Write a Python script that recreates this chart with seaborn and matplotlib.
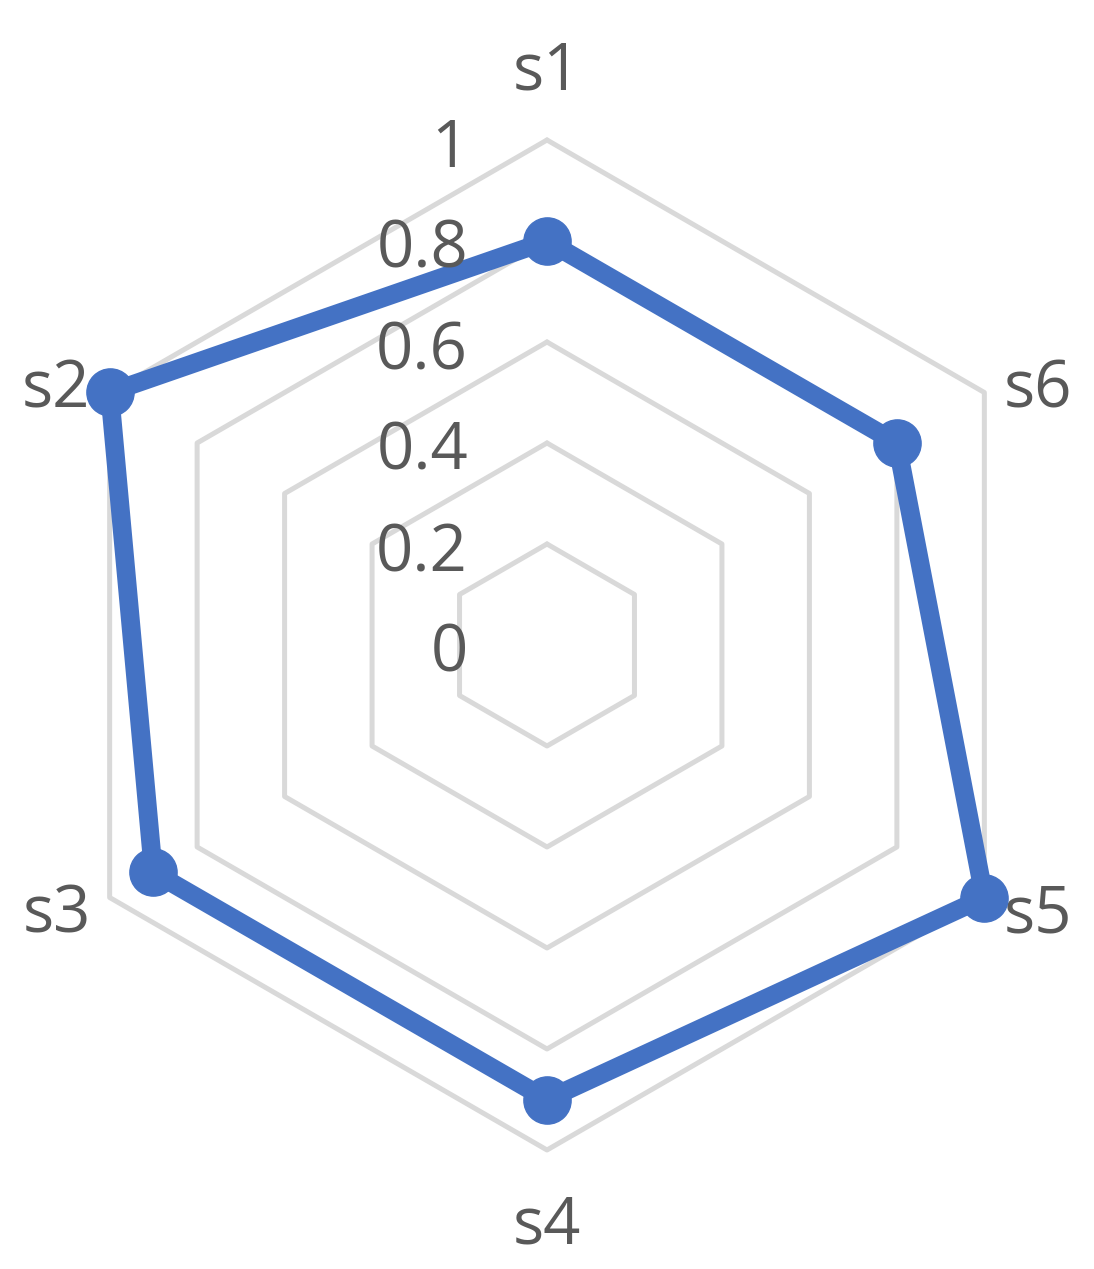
import numpy as np
import pandas as pd
import matplotlib
matplotlib.use("Agg")
import matplotlib.pyplot as plt
import matplotlib.transforms as mtransforms
import seaborn as sns

categories = ["s1", "s2", "s3", "s4", "s5", "s6"]
values = [0.8, 1.0, 0.9, 0.9, 1.0, 0.8]
ring_levels = [0.2, 0.4, 0.6, 0.8, 1.0]
tick_labels = ["0", "0.2", "0.4", "0.6", "0.8", "1"]
tick_values = [0.0, 0.2, 0.4, 0.6, 0.8, 1.0]

sns.set_theme(style="white")
plt.rcParams["font.family"] = ["Open Sans", "DejaVu Sans"]

LINE = "#4472C4"
GRID = "#D9D9D9"
TEXT = "#595959"
FS = 47

fig = plt.figure(figsize=(10.94, 12.69), dpi=100)
R = 505
cx, cy = 547, 645
ax = fig.add_axes([(cx - R) / 1094, (1269 - cy - R) / 1269, 2 * R / 1094, 2 * R / 1269],
                  projection="polar")
ax.set_theta_zero_location("N")
ax.set_theta_direction(1)
ax.set_ylim(0, 1)
ax.grid(False)
ax.spines["polar"].set_visible(False)
ax.set_xticks([])
ax.set_yticks([])
ax.patch.set_alpha(0)

n = len(categories)
angles = np.arange(n) * 2 * np.pi / n
closed = np.append(angles, angles[0])

for lvl in ring_levels:
    ax.plot(closed, [lvl] * (n + 1), color=GRID, lw=3.6, zorder=1,
            solid_joinstyle="miter", clip_on=False)

df = pd.DataFrame({"angle": np.append(angles, angles[0]),
                   "value": values + [values[0]]})
sns.lineplot(data=df, x="angle", y="value", sort=False, ax=ax, color=LINE,
             lw=13.5, zorder=3, estimator=None)
for ln in ax.get_lines():
    ln.set_clip_on(False)
    ln.set_solid_joinstyle("round")
ax.plot(angles, values, "o", color=LINE, markersize=34, zorder=4, clip_on=False)
ax.set_xlabel("")
ax.set_ylabel("")

for a, c in zip(angles, categories):
    cosv = np.cos(a)
    sinv = np.sin(a)
    dy = -6 if cosv < -0.9 else -3
    dx = 0
    if abs(abs(cosv) - 0.5) < 1e-6:
        dy = -8 - 25 * np.sign(cosv)
        dx = 8 * np.sign(sinv)
    tr = mtransforms.offset_copy(ax.transData, fig=fig, x=dx, y=dy, units="dots")
    ax.text(a, 1.14, c, transform=tr, ha="center", va="center", fontsize=FS,
            color=TEXT, clip_on=False)

off = mtransforms.offset_copy(ax.transData, fig=fig, x=-79, y=-10, units="dots")
for v, t in zip(tick_values, tick_labels):
    ax.text(0, v, t, transform=off, ha="right", va="center", fontsize=FS,
            color=TEXT, clip_on=False)

fig.savefig("out.png", dpi=100)
